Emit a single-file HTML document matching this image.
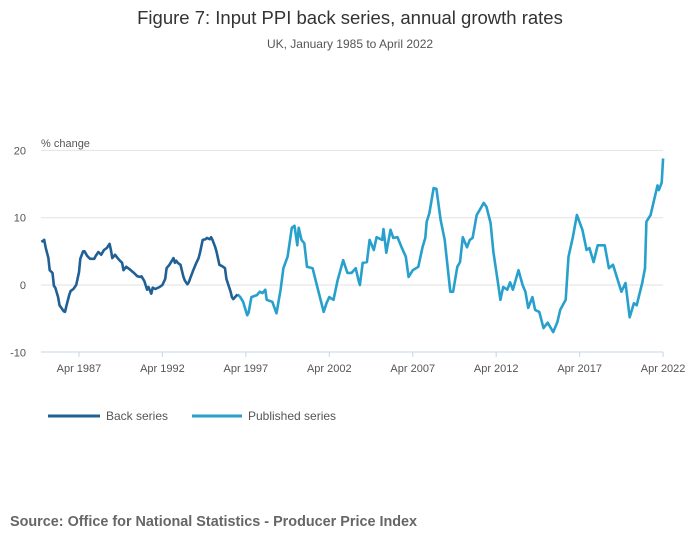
<!DOCTYPE html>
<html><head><meta charset="utf-8"><style>
body{margin:0;background:#fff;font-family:"Liberation Sans",sans-serif;}
svg text{font-family:"Liberation Sans",sans-serif;}
</style></head><body>
<svg width="700" height="549">
<text x="350" y="24" text-anchor="middle" font-size="18.5" fill="#333">Figure 7: Input PPI back series, annual growth rates</text>
<text x="350" y="48" text-anchor="middle" font-size="12" fill="#555">UK, January 1985 to April 2022</text>
<text x="41" y="147" font-size="11" fill="#555">% change</text>
<g id="grid"></g><g id="axis"></g><g id="lines"></g>
<g>
<line x1="48" y1="416" x2="100" y2="416" stroke="#206095" stroke-width="3"/>
<text x="106" y="420" font-size="12" fill="#555">Back series</text>
<line x1="192" y1="416" x2="242" y2="416" stroke="#27a0cc" stroke-width="3"/>
<text x="248" y="420" font-size="12" fill="#555">Published series</text>
</g>
<text x="10" y="526" font-size="14.4" font-weight="bold" fill="#666">Source: Office for National Statistics - Producer Price Index</text>
</svg>
<script>
const yTicks=[20,10,0,-10];
const xTickMonths=[27,87,147,207,267,327,387,447];
const xTickLabels=["Apr 1987","Apr 1992","Apr 1997","Apr 2002","Apr 2007","Apr 2012","Apr 2017","Apr 2022"];
const backMonths=[0,2,3,5,6,8,9,10,12,13,16,17,18,20,21,23,25,27,28,30,31,33,35,38,39,41,43,45,47,49,50,51,53,54,56,58,59,61,63,66,69,71,72,74,76,77,79,80,82,85,87,89,90,92,95,96,97,98,100,102,103,105,106,107,109,111,113,114,116,118,119,121,122,123,125,126,128,130,132,133,136,137,138,141];
const backValues=[6.4,6.7,5.6,4,2.2,1.8,-0.1,-0.4,-1.8,-3,-3.9,-4,-3.1,-1.5,-0.9,-0.6,0,1.9,3.9,5,5,4.3,3.9,3.9,4.3,4.9,4.5,5.2,5.5,6.1,5.2,4,4.5,4.2,3.7,3.3,2.2,2.7,2.4,1.9,1.3,1.2,1.3,0.6,-0.7,-0.3,-1.3,-0.4,-0.6,-0.3,0,0.9,2.5,3,4,3.3,3.6,3.3,3,1.3,0.7,0.1,0.4,1,2.1,3.1,4,4.8,6.7,6.8,7,6.8,7.1,6.7,5.6,4.9,3,2.8,2.5,0.9,-1,-1.8,-2.1,-1.4];
const pubMonths=[141,143,145,148,149,151,155,157,159,161,162,166,169,172,174,177,180,182,184,185,187,189,191,195,198,203,205,207,210,213,217,220,223,226,228,229,231,234,236,239,241,245,246,248,251,253,256,259,262,264,267,271,274,276,277,279,282,284,287,290,294,296,299,301,303,306,308,310,313,315,318,320,323,325,328,330,332,335,337,339,343,346,348,350,353,355,358,361,364,368,371,373,377,379,382,385,389,392,394,397,400,405,408,411,414,417,420,423,426,428,432,434,435,438,440,443,444,446,447];
const pubValues=[-1.4,-1.8,-2.5,-4.5,-4.1,-1.8,-1.5,-1,-1.2,-0.7,-2.2,-2.5,-4.2,-0.7,2.5,4.2,8.5,8.8,5.9,8.5,6.7,6.2,2.7,2.5,0,-4,-2.7,-1.8,-2.2,0.7,3.7,1.8,1.8,2.5,0.7,0,3.3,3.4,6.7,5.2,7.1,6.7,8.3,4.8,8.2,7,7.1,5.6,4.2,1.2,2.2,2.7,5.6,7,9.4,10.7,14.4,14.3,9.7,6.7,-1,-1,2.7,3.4,7.1,5.6,6.7,7,10.4,11.1,12.2,11.6,9.2,4.9,0.7,-2.2,-0.3,-0.7,0.4,-0.7,2.2,0,-1,-3.4,-1.8,-3.7,-4,-6.4,-5.6,-7,-5.5,-3.7,-2.2,4.2,7,10.4,8.2,5.2,5.5,3.4,5.9,5.9,2.5,3,1,-1,0.3,-4.8,-2.7,-3,0.3,2.5,9.4,10.4,12.2,14.8,14.1,15.2,18.8];
const NS="http://www.w3.org/2000/svg";
const X=m=>41.4+m*(16.69/12);
const Y=v=>285-v*6.73;
function mk(t,a,p){const e=document.createElementNS(NS,t);for(const k in a)e.setAttribute(k,a[k]);p.appendChild(e);return e;}
const grid=document.getElementById('grid'),axis=document.getElementById('axis'),lines=document.getElementById('lines');
yTicks.forEach(v=>{
 if(v>-10){const l=mk('line',{x1:41,x2:663,y1:Y(v),y2:Y(v),stroke:'#e2e2e2','stroke-width':1},grid);
 
 }
 const t=mk('text',{x:26,y:Y(v)+4,'text-anchor':'end','font-size':11,fill:'#555'},axis);t.textContent=v;
 
 
});
const base=mk('line',{x1:41,x2:663,y1:352,y2:352,stroke:'#c6d5e8','stroke-width':1},axis);


xTickMonths.forEach((m,i)=>{
 const l=mk('line',{x1:X(m),x2:X(m),y1:352,y2:357,stroke:'#c6d5e8'},axis);
 
 
 const t=mk('text',{x:X(m),y:372,'text-anchor':'middle','font-size':11,fill:'#555'},axis);t.textContent=xTickLabels[i];
 
 
});
function path(ms,vs,c,name){
 const d=ms.map((m,i)=>(i?'L':'M')+X(m).toFixed(1)+','+Y(vs[i]).toFixed(1)).join('');
 const p=mk('path',{d:d,fill:'none',stroke:c,'stroke-width':2.6,'stroke-linejoin':'round'},lines);
 
 
}
path(pubMonths,pubValues,'#27a0cc','published-series-line');
path(backMonths,backValues,'#206095','back-series-line');
</script>
</body></html>
